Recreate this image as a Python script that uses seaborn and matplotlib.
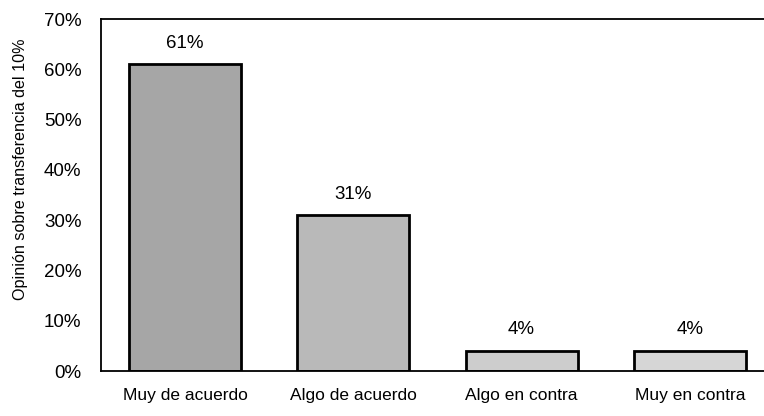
import pandas as pd
import matplotlib.pyplot as plt
import seaborn as sns

# data
categories = ["Muy de acuerdo", "Algo de acuerdo", "Algo en contra", "Muy en contra"]
values = [61, 31, 4, 4]
y_ticks = [0, 10, 20, 30, 40, 50, 60, 70]
bar_colors = ["#a6a6a6", "#b9b9b9", "#cdcdcd", "#d6d6d6"]

df = pd.DataFrame({"opinion": categories, "pct": values})

sns.set_style("white")
plt.rcParams["font.family"] = ["Liberation Sans", "DejaVu Sans"]
plt.rcParams["text.color"] = "black"
plt.rcParams["xtick.color"] = "black"
plt.rcParams["ytick.color"] = "black"
plt.rcParams["axes.labelcolor"] = "black"

fig = plt.figure(figsize=(7.64, 4.16), dpi=100)
ax = fig.add_axes([101 / 764, 45 / 416, 673 / 764, 352 / 416])

sns.barplot(data=df, x="opinion", y="pct", hue="opinion", palette=bar_colors,
            width=0.665, edgecolor="black", linewidth=2.0, legend=False, ax=ax)

for c in ax.containers:
    ax.bar_label(c, labels=[f"{int(round(v))}%" for v in c.datavalues],
                 padding=9, fontsize=13.5)

ax.set_ylim(0, 70)
ax.set_xlim(-0.5, 3.5)
ax.set_yticks(y_ticks)
ax.set_yticklabels([f"{t}%" for t in y_ticks], fontsize=13.5)
ax.tick_params(axis="x", labelsize=12.5, pad=12, length=0)
ax.tick_params(axis="y", pad=14, length=0)
ax.set_xlabel("")
ax.set_ylabel("Opinión sobre transferencia del 10%", fontsize=11.6)
ax.yaxis.set_label_coords(-0.108, 0.574)

for side in ["left", "top", "bottom"]:
    ax.spines[side].set_visible(True)
    ax.spines[side].set_color("black")
    ax.spines[side].set_linewidth(1.3)
ax.spines["right"].set_visible(False)

fig.savefig("out.png", dpi=100)
